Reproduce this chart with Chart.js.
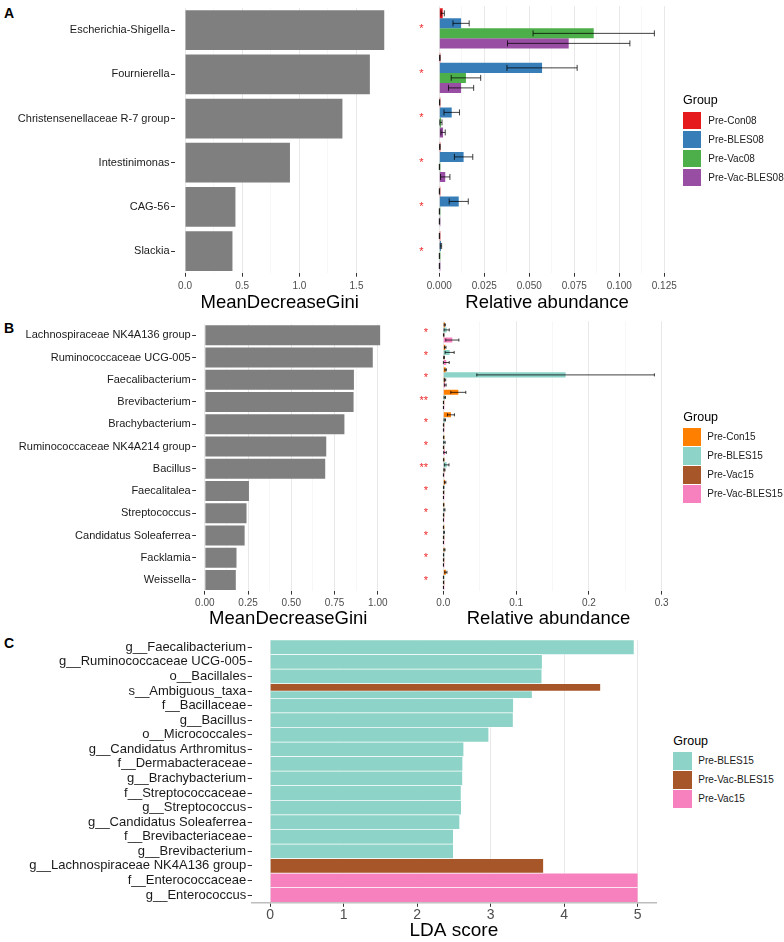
<!DOCTYPE html>
<html>
<head>
<meta charset="utf-8">
<script src="https://cdn.jsdelivr.net/npm/chart.js@4.4.0/dist/chart.umd.min.js"></script>
<style>
  html, body { margin: 0; padding: 0; background: #fff; overflow: hidden; }
  #fig { position: relative; width: 784px; height: 942px; overflow: hidden; font-family: "Liberation Sans", Arial, sans-serif; }
  .tag { position: absolute; font-weight: bold; font-size: 14px; line-height: 14px; color: #000; }
  .lg-title { position: absolute; font-size: 12.5px; line-height: 16px; color: #000; }
  .lg-key { position: absolute; }
  .lg-label { position: absolute; font-size: 10px; color: #1a1a1a; white-space: nowrap; }
</style>
</head>
<body>
<div id="fig">
  <div class="tag" style="left:4px;top:6px">A</div>
  <div class="tag" style="left:4px;top:321px">B</div>
  <div class="tag" style="left:4px;top:636px">C</div>
</div>
<script>
// ---------- panel A ----------
const generaA = ['Escherichia-Shigella', 'Fournierella', 'Christensenellaceae R-7 group', 'Intestinimonas', 'CAG-56', 'Slackia'];
const giniA = [1.745, 1.617, 1.377, 0.918, 0.441, 0.415];
const sigA = ['*', '*', '*', '*', '*', '*'];
const groupsA = ['Pre-Con08', 'Pre-BLES08', 'Pre-Vac08', 'Pre-Vac-BLES08'];
const colorsA = ['#E41A1C', '#377EB8', '#4DAF4A', '#984EA3'];
const con08 = [0.0019, 0.0003, 0.0002, 0.0003, 0.0001, 0.0001];
const con08Err = [0.0009, 0.0002, 0.0001, 0.0002, 0.0001, 0.0001];
const bles08 = [0.0121, 0.0571, 0.0069, 0.0135, 0.0108, 0.0009];
const bles08Err = [0.0045, 0.0195, 0.0043, 0.0051, 0.0053, 0.0004];
const vac08 = [0.0858, 0.0148, 0.0009, 0.0001, 0.0001, 0.0001];
const vac08Err = [0.0337, 0.0082, 0.0006, 0.0001, 0.0001, 0.0001];
const vacBles08 = [0.0719, 0.0121, 0.0021, 0.0033, 0.0001, 0.0001];
const vacBles08Err = [0.0340, 0.0070, 0.0012, 0.0026, 0.0001, 0.0001];

// ---------- panel B ----------
const generaB = ['Lachnospiraceae NK4A136 group', 'Ruminococcaceae UCG-005', 'Faecalibacterium', 'Brevibacterium',
  'Brachybacterium', 'Ruminococcaceae NK4A214 group', 'Bacillus', 'Faecalitalea', 'Streptococcus',
  'Candidatus Soleaferrea', 'Facklamia', 'Weissella'];
const giniB = [1.015, 0.971, 0.862, 0.860, 0.807, 0.702, 0.696, 0.255, 0.241, 0.230, 0.183, 0.179];
const sigB = ['*', '*', '*', '**', '*', '*', '**', '*', '*', '*', '*', '*'];
const groupsB = ['Pre-Con15', 'Pre-BLES15', 'Pre-Vac15', 'Pre-Vac-BLES15'];
const colorsB = ['#FF7F00', '#8DD3C7', '#A65628', '#F781BF'];
const con15 = [0.0020, 0.0027, 0.0032, 0.0206, 0.0105, 0.0005, 0.0005, 0.0025, 0.0005, 0.0003, 0.0015, 0.0035];
const con15Err = [0.0008, 0.0010, 0.0010, 0.0103, 0.0048, 0.0003, 0.0003, 0.0010, 0.0003, 0.0002, 0.0008, 0.0015];
const bles15 = [0.0046, 0.0087, 0.1680, 0.0020, 0.0020, 0.0015, 0.0046, 0.0005, 0.0015, 0.0010, 0.0004, 0.0003];
const bles15Err = [0.0036, 0.0062, 0.1220, 0.0010, 0.0010, 0.0010, 0.0032, 0.0003, 0.0008, 0.0005, 0.0002, 0.0002];
const vac15 = [0.0005, 0.0010, 0.0023, 0.0002, 0.0003, 0.0003, 0.0015, 0.0003, 0.0003, 0.0003, 0.0003, 0.0003];
const vac15Err = [0.0003, 0.0005, 0.0010, 0.0001, 0.0002, 0.0002, 0.0008, 0.0002, 0.0002, 0.0002, 0.0002, 0.0002];
const vacBles15 = [0.0124, 0.0041, 0.0027, 0.0002, 0.0003, 0.0023, 0.0003, 0.0002, 0.0002, 0.0002, 0.0002, 0.0002];
const vacBles15Err = [0.0090, 0.0040, 0.0012, 0.0001, 0.0002, 0.0018, 0.0002, 0.0001, 0.0001, 0.0001, 0.0001, 0.0001];

// ---------- panel C (LEfSe) ----------
const featuresC = ['g__Faecalibacterium', 'g__Ruminococcaceae UCG-005', 'o__Bacillales', 's__Ambiguous_taxa',
  'f__Bacillaceae', 'g__Bacillus', 'o__Micrococcales', 'g__Candidatus Arthromitus', 'f__Dermabacteraceae',
  'g__Brachybacterium', 'f__Streptococcaceae', 'g__Streptococcus', 'g__Candidatus Soleaferrea',
  'f__Brevibacteriaceae', 'g__Brevibacterium', 'g__Lachnospiraceae NK4A136 group', 'f__Enterococcaceae', 'g__Enterococcus'];
const groupsC = ['Pre-BLES15', 'Pre-Vac-BLES15', 'Pre-Vac15'];
const colorsC = ['#8DD3C7', '#A65628', '#F781BF'];
const ldaBles15 = [4.947, 3.698, 3.693, 3.561, 3.307, 3.302, 2.971, 2.631, 2.617, 2.615, 2.594, 2.598, 2.576, 2.489, 2.489, null, null, null];
const ldaVacBles15 = [null, null, null, 4.492, null, null, null, null, null, null, null, null, null, null, null, 3.716, null, null];
const ldaVac15 = [null, null, null, null, null, null, null, null, null, null, null, null, null, null, null, null, 5.0, 5.0];

const FONT = "'Liberation Sans', Arial, sans-serif";
Chart.defaults.font.family = FONT;
Chart.defaults.animation = false;
Chart.defaults.plugins.legend.display = false;
Chart.defaults.plugins.tooltip.enabled = false;

// error bars drawn on top of the bars, using the x scale
const errorBars = {
  id: 'errorBars',
  afterDatasetsDraw(chart) {
    const ctx = chart.ctx, xs = chart.scales.x;
    ctx.save();
    ctx.strokeStyle = 'rgba(0,0,0,0.75)';
    ctx.lineWidth = 1;
    chart.data.datasets.forEach((ds, i) => {
      if (!ds.errors) return;
      chart.getDatasetMeta(i).data.forEach((bar, j) => {
        const v = ds.data[j], e = ds.errors[j];
        if (v == null) return;
        const x1 = xs.getPixelForValue(Math.max(0, v - e));
        const x2 = xs.getPixelForValue(v + e);
        const c = bar.height * 0.3;
        ctx.beginPath();
        ctx.moveTo(x1, bar.y); ctx.lineTo(x2, bar.y);
        ctx.moveTo(x1, bar.y - c); ctx.lineTo(x1, bar.y + c);
        ctx.moveTo(x2, bar.y - c); ctx.lineTo(x2, bar.y + c);
        ctx.stroke();
      });
    });
    ctx.restore();
  }
};

// significance stars left of zero
const sigStars = {
  id: 'sigStars',
  afterDatasetsDraw(chart, args, opts) {
    if (!opts.labels) return;
    const ctx = chart.ctx;
    const x = chart.scales.x.getPixelForValue(opts.at);
    ctx.save();
    ctx.fillStyle = '#f02828';
    ctx.font = '11px ' + FONT;
    ctx.textAlign = 'right';
    ctx.textBaseline = 'middle';
    opts.labels.forEach((s, i) => ctx.fillText(s, x, chart.scales.y.getPixelForValue(i) + 1));
    ctx.restore();
  }
};

function makeCanvas(left, top, w, h) {
  const c = document.createElement('canvas');
  c.width = w; c.height = h;
  c.style.cssText = `position:absolute;left:${left}px;top:${top}px;width:${w}px;height:${h}px`;
  document.getElementById('fig').appendChild(c);
  return c;
}

function valueAxis(o) {
  const isMajor = v => Math.abs(v / o.major - Math.round(v / o.major)) < 1e-6;
  return {
    type: 'linear', min: o.min, max: o.max,
    border: o.border || { display: false },
    grid: {
      color: c => (c.tick && isMajor(c.tick.value)) ? '#e8e8e8' : (o.minor ? '#f1f1f1' : 'rgba(0,0,0,0)'),
      lineWidth: c => (c.tick && isMajor(c.tick.value)) ? 1 : 0.6,
      tickColor: c => (c.tick && isMajor(c.tick.value)) ? '#333' : 'rgba(0,0,0,0)',
      tickLength: o.tickLength || 3.5
    },
    ticks: {
      stepSize: o.step, includeBounds: false, autoSkip: false, maxRotation: 0,
      color: '#4d4d4d', font: { size: o.tickSize || 10 }, padding: o.pad,
      callback: v => isMajor(v) ? v.toFixed(o.digits) : ''
    },
    title: { display: true, text: o.title, color: '#000', font: { size: o.titleSize || 18.5, lineHeight: 1.2 }, padding: { top: 0, bottom: o.titlePad } },
    afterFit: s => { s.height = o.height; }
  };
}

function labelAxis(width, size) {
  return {
    type: 'category', offset: true, border: { display: false },
    grid: { offset: false, drawOnChartArea: false, drawTicks: true, tickLength: 4, tickColor: '#333' },
    ticks: { color: '#1a1a1a', font: { size: size }, padding: 1.5, autoSkip: false },
    afterFit: s => { s.width = width; }
  };
}

function groupSets(groups, colors, values, errors) {
  return groups.map((g, i) => ({
    label: g, data: values[i], errors: errors[i], backgroundColor: colors[i],
    categoryPercentage: 0.9, barPercentage: 1, minBarLength: 1
  }));
}

function addLegend(x, titleY, keyTop, pitch, keyW, keyH, labelX, names, colors) {
  const fig = document.getElementById('fig');
  const t = document.createElement('div');
  t.className = 'lg-title'; t.textContent = 'Group';
  t.style.left = x + 'px'; t.style.top = (titleY - 8) + 'px';
  fig.appendChild(t);
  names.forEach((n, i) => {
    const k = document.createElement('div');
    k.className = 'lg-key';
    k.style.cssText += `left:${x}px;top:${keyTop + i * pitch}px;width:${keyW}px;height:${keyH}px;background:${colors[i]}`;
    fig.appendChild(k);
    const l = document.createElement('div');
    l.className = 'lg-label'; l.textContent = n;
    l.style.cssText += `left:${labelX}px;top:${keyTop + i * pitch}px;line-height:${keyH}px`;
    fig.appendChild(l);
  });
}

// A: MeanDecreaseGini
new Chart(makeCanvas(0, 0, 390, 318), {
  type: 'bar',
  data: { labels: generaA, datasets: [{ data: giniA, backgroundColor: '#7f7f7f', categoryPercentage: 0.9, barPercentage: 1 }] },
  options: {
    indexAxis: 'y', responsive: false,
    layout: { padding: { top: 6.1, right: 5.5, bottom: 0, left: 0 } },
    scales: {
      x: valueAxis({ min: -0.0877, max: 1.745, step: 0.25, major: 0.5, digits: 1, minor: true, pad: 3.3, height: 44.8, titlePad: 3.9, title: 'MeanDecreaseGini' }),
      y: labelAxis(175, 11)
    }
  }
});

// A: relative abundance
new Chart(makeCanvas(395, 0, 290, 318), {
  type: 'bar',
  data: { labels: generaA, datasets: groupSets(groupsA, colorsA, [con08, bles08, vac08, vacBles08], [con08Err, bles08Err, vac08Err, vacBles08Err]) },
  options: {
    indexAxis: 'y', responsive: false,
    layout: { padding: { top: 6.1, right: 8.5, bottom: 0, left: 22.7 } },
    scales: {
      x: valueAxis({ min: -0.012, max: 0.1318, step: 0.0125, major: 0.025, digits: 3, minor: true, pad: 3.3, height: 44.8, titlePad: 3.9, title: 'Relative abundance' }),
      y: { display: false, offset: true }
    },
    plugins: { sigStars: { labels: sigA, at: -0.0088 } }
  },
  plugins: [errorBars, sigStars]
});
addLegend(683, 99.5, 111.7, 19, 17.5, 17.5, 708.3, groupsA, colorsA);

// B: MeanDecreaseGini
new Chart(makeCanvas(0, 316, 390, 318), {
  type: 'bar',
  data: { labels: generaB, datasets: [{ data: giniB, backgroundColor: '#7f7f7f', categoryPercentage: 0.9, barPercentage: 1 }] },
  options: {
    indexAxis: 'y', responsive: false,
    layout: { padding: { top: 5.2, right: 5.6, bottom: 0, left: 0 } },
    scales: {
      x: valueAxis({ min: -0.05, max: 1.015, step: 0.125, major: 0.25, digits: 2, minor: true, pad: 2.4, height: 42.9, titlePad: 3.6, title: 'MeanDecreaseGini' }),
      y: labelAxis(196.2, 11)
    }
  }
});

// B: relative abundance
new Chart(makeCanvas(395, 316, 290, 318), {
  type: 'bar',
  data: { labels: generaB, datasets: groupSets(groupsB, colorsB, [con15, bles15, vac15, vacBles15], [con15Err, bles15Err, vac15Err, vacBles15Err]) },
  options: {
    indexAxis: 'y', responsive: false,
    layout: { padding: { top: 5.2, right: 5.1, bottom: 0, left: 22.1 } },
    scales: {
      x: valueAxis({ min: -0.036, max: 0.325, step: 0.05, major: 0.1, digits: 1, minor: true, pad: 2.4, height: 42.9, titlePad: 3.6, title: 'Relative abundance' }),
      y: { display: false, offset: true }
    },
    plugins: { sigStars: { labels: sigB, at: -0.021 } }
  },
  plugins: [errorBars, sigStars]
});
addLegend(683.3, 416.7, 428.3, 19, 17.7, 17.5, 707.3, groupsB, colorsB);

// C: LDA score
const ldaSets = [ldaBles15, ldaVacBles15, ldaVac15].map((d, i) => ({
  label: groupsC[i], data: d, backgroundColor: colorsC[i],
  borderColor: 'rgba(255,255,255,0.7)', borderWidth: { top: 0.7, bottom: 0.7, left: 0, right: 0 }, borderSkipped: false,
  categoryPercentage: 1, barPercentage: 1, order: i === 1 ? 0 : i + 1
}));
new Chart(makeCanvas(0, 630, 665, 312), {
  type: 'bar',
  data: { labels: featuresC, datasets: ldaSets },
  options: {
    indexAxis: 'y', responsive: false, skipNull: true,
    layout: { padding: { top: 10, right: 9, bottom: 0, left: 0 } },
    scales: {
      x: valueAxis({ min: -0.25, max: 5.25, step: 1, major: 1, digits: 0, minor: false, pad: 0, tickSize: 14, tickLength: 4.5,
        height: 39.7, titlePad: 0, titleSize: 19, title: 'LDA score', border: { display: true, color: '#bdbdbd', width: 1.5 } }),
      y: labelAxis(251.7, 13)
    }
  }
});
addLegend(673.3, 740.7, 752.3, 18.8, 18.3, 18, 698.3, groupsC, colorsC);
</script>
</body>
</html>
